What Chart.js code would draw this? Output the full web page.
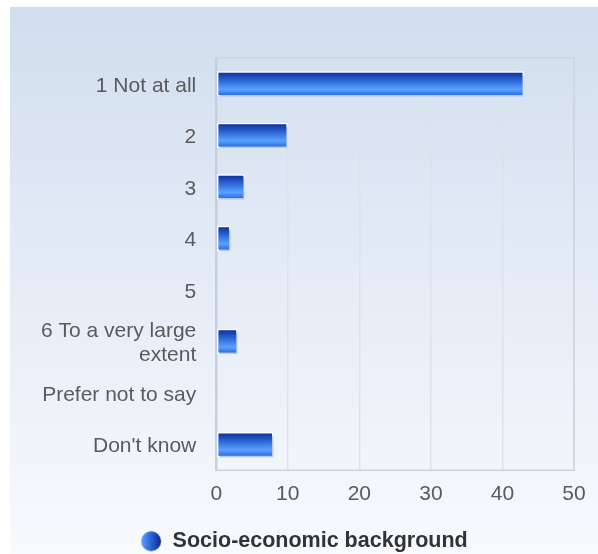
<!DOCTYPE html>
<html>
<head>
<meta charset="utf-8">
<script src="https://cdn.jsdelivr.net/npm/chart.js@4.4.1/dist/chart.umd.min.js"></script>
<style>
  html, body { margin: 0; padding: 0; background: #fff; }
  #wrap {
    position: absolute; left: 10px; top: 7px; width: 588px; height: 547px;
    background: linear-gradient(to bottom, #d2deee 0%, #e6edf7 55%, #f8fafd 100%);
  }
</style>
</head>
<body>
<div id="wrap"><canvas id="chart" width="588" height="547"></canvas></div>
<script>
// ── data ──
const categories = ['1 Not at all', '2', '3', '4', '5', ['6 To a very large', 'extent'], 'Prefer not to say', "Don't know"];
const counts = [43, 10, 4, 2, 0, 3, 0, 8];
const seriesName = 'Socio-economic background';
const xTicks = [0, 10, 20, 30, 40, 50];

const FONT = "'Liberation Sans', Arial, sans-serif";
const BAR_PCT = 0.49;

// vertical gradient per bar, built from the category band on the y scale
function barFill(context) {
    const chart = context.chart;
    const y = chart.scales && chart.scales.y;
    if (!chart.chartArea || !y || context.dataIndex === undefined) return '#2f6fe0';
    const mid = y.getPixelForValue(context.dataIndex);
    const band = (y.bottom - y.top) / categories.length;
    const half = band * BAR_PCT / 2;
    if (!isFinite(mid) || half <= 0) return '#2f6fe0';
    const g = chart.ctx.createLinearGradient(0, mid - half, 0, mid + half);
    g.addColorStop(0, '#0a2a8e');
    g.addColorStop(0.35, '#2a62d4');
    g.addColorStop(0.72, '#5aa2ff');
    g.addColorStop(1, '#1f5fd6');
    return g;
}

// legend marker: little circle with a sideways gradient
const marker = document.createElement('canvas');
marker.width = 22; marker.height = 22;
(function () {
    const c = marker.getContext('2d');
    const g = c.createLinearGradient(1, 0, 21, 0);
    g.addColorStop(0, '#5aa2ff');
    g.addColorStop(0.5, '#2a62d4');
    g.addColorStop(1, '#0a2a8e');
    c.fillStyle = g;
    c.beginPath();
    c.arc(11, 11, 10, 0, Math.PI * 2);
    c.fill();
})();

const frame = {
    id: 'frame',
    beforeDatasetsDraw(chart) {
        const { ctx, chartArea: a } = chart;
        ctx.save();
        ctx.strokeStyle = '#ccd2dc';
        ctx.lineWidth = 1.5;
        ctx.strokeRect(a.left, a.top, a.right - a.left, a.bottom - a.top);
        ctx.strokeStyle = '#c6cfe0';
        ctx.lineWidth = 2.5;
        ctx.beginPath();
        ctx.moveTo(a.left, a.top);
        ctx.lineTo(a.left, a.bottom);
        ctx.stroke();
        ctx.restore();
    }
};

const shadow = {
    id: 'shadow',
    beforeDatasetDraw(chart) {
        const ctx = chart.ctx;
        ctx.save();
        ctx.shadowColor = 'rgba(90,130,210,0.45)';
        ctx.shadowOffsetX = 1;
        ctx.shadowOffsetY = 3;
        ctx.shadowBlur = 0;
    },
    afterDatasetDraw(chart) {
        chart.ctx.restore();
    }
};

new Chart(document.getElementById('chart'), {
    type: 'bar',
    data: {
        labels: categories,
        datasets: [{
            label: seriesName,
            data: counts,
            backgroundColor: barFill,
            borderColor: '#ffffff',
            borderWidth: 1.5,
            borderSkipped: false,
            barPercentage: BAR_PCT,
            categoryPercentage: 1,
            pointStyle: marker,
        }]
    },
    options: {
        indexAxis: 'y',
        responsive: false,
        animation: false,
        // equal side padding keeps the legend centred on the whole panel
        layout: { padding: { top: 51, right: 24, left: 24, bottom: -8 } },
        plugins: {
            tooltip: { enabled: false },
            legend: {
                position: 'bottom',
                labels: {
                    usePointStyle: true,
                    color: '#333333',
                    font: { family: FONT, size: 21.5, weight: 'bold', lineHeight: 1 },
                    padding: 0,
                }
            }
        },
        scales: {
            x: {
                min: 0,
                max: 50,
                afterBuildTicks: (axis) => { axis.ticks = xTicks.map(v => ({ value: v })); },
                afterFit: (scale) => { scale.height += 13; },
                grid: { color: '#dde2ea', lineWidth: 1.5, drawTicks: false },
                border: { display: false },
                ticks: {
                    color: '#5a5a5a',
                    padding: 11,
                    font: { family: FONT, size: 21 },
                }
            },
            y: {
                afterFit: (scale) => { scale.width -= 13; },
                grid: { display: false, drawTicks: false },
                border: { display: false },
                ticks: {
                    autoSkip: false,
                    color: '#5a5a5a',
                    padding: 20,
                    labelOffset: 2,
                    font: { family: FONT, size: 21, lineHeight: 1.15 },
                }
            }
        }
    },
    plugins: [frame, shadow]
});
</script>
</body>
</html>
